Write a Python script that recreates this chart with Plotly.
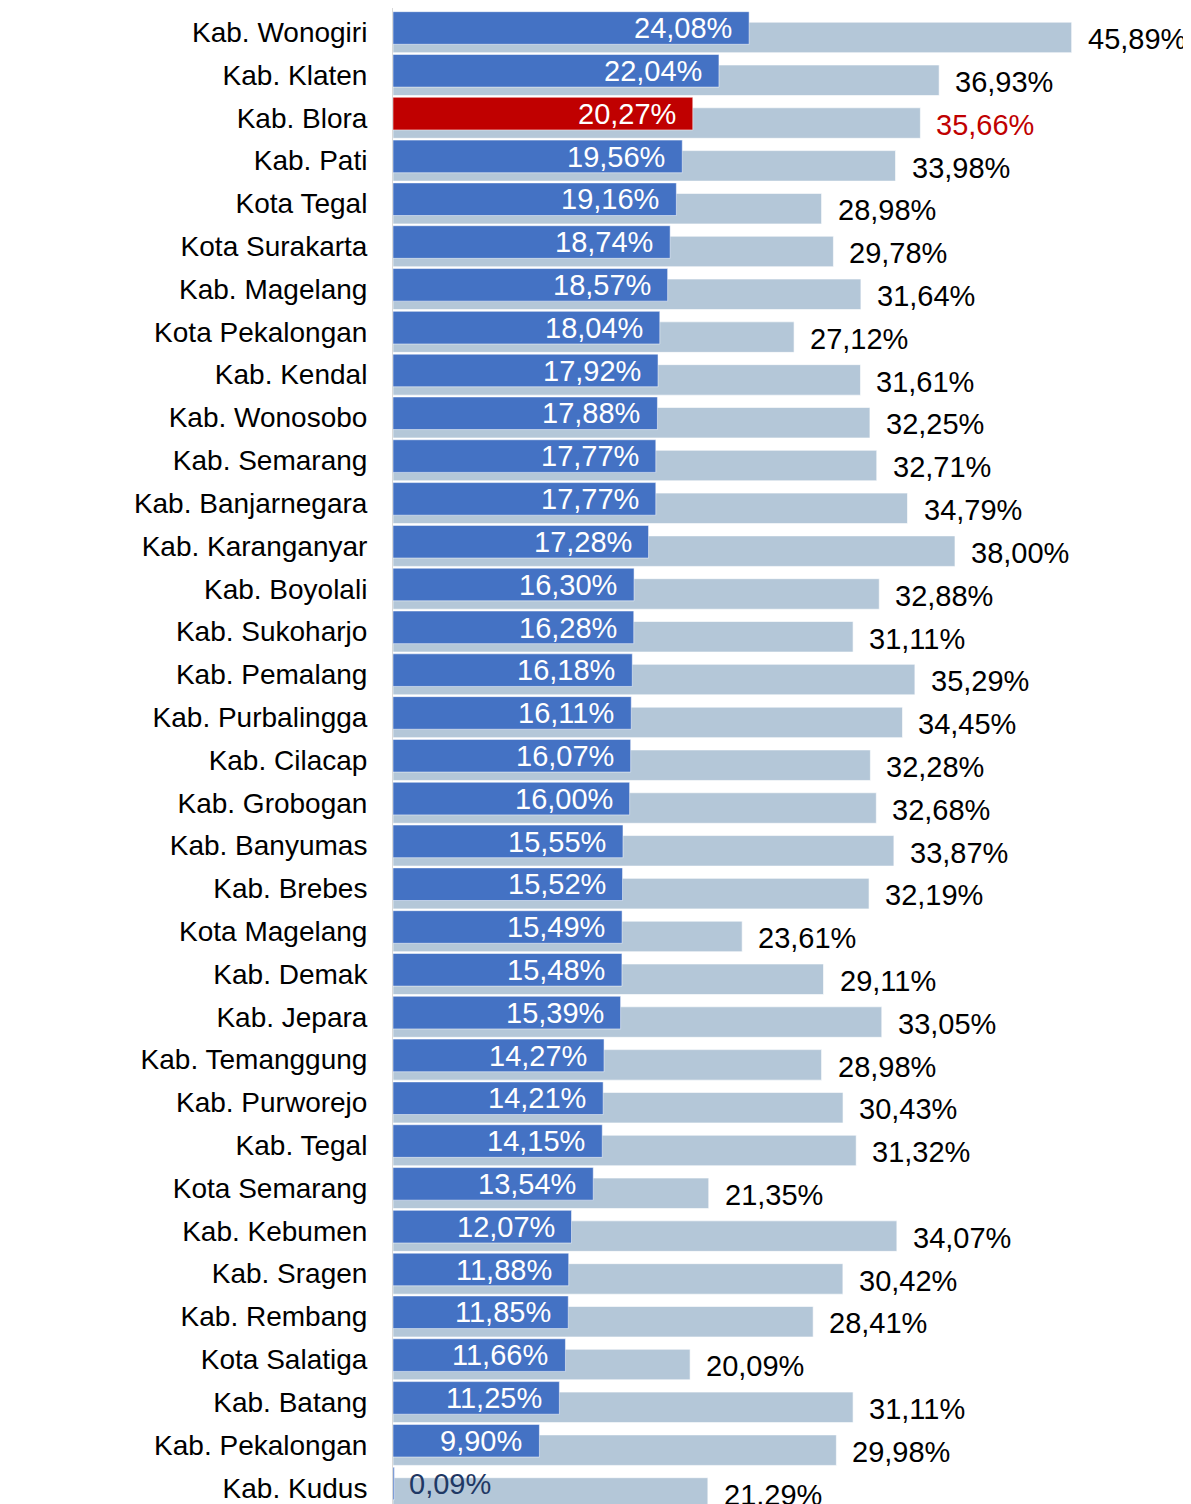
import plotly.graph_objects as go

categories = [
    "Kab. Wonogiri", "Kab. Klaten", "Kab. Blora", "Kab. Pati", "Kota Tegal",
    "Kota Surakarta", "Kab. Magelang", "Kota Pekalongan", "Kab. Kendal", "Kab. Wonosobo",
    "Kab. Semarang", "Kab. Banjarnegara", "Kab. Karanganyar", "Kab. Boyolali", "Kab. Sukoharjo",
    "Kab. Pemalang", "Kab. Purbalingga", "Kab. Cilacap", "Kab. Grobogan", "Kab. Banyumas",
    "Kab. Brebes", "Kota Magelang", "Kab. Demak", "Kab. Jepara", "Kab. Temanggung",
    "Kab. Purworejo", "Kab. Tegal", "Kota Semarang", "Kab. Kebumen", "Kab. Sragen",
    "Kab. Rembang", "Kota Salatiga", "Kab. Batang", "Kab. Pekalongan", "Kab. Kudus",
]
blue_values = [
    24.08, 22.04, 20.27, 19.56, 19.16, 18.74, 18.57, 18.04, 17.92, 17.88,
    17.77, 17.77, 17.28, 16.30, 16.28, 16.18, 16.11, 16.07, 16.00, 15.55,
    15.52, 15.49, 15.48, 15.39, 14.27, 14.21, 14.15, 13.54, 12.07, 11.88,
    11.85, 11.66, 11.25, 9.90, 0.09,
]
light_values = [
    45.89, 36.93, 35.66, 33.98, 28.98, 29.78, 31.64, 27.12, 31.61, 32.25,
    32.71, 34.79, 38.00, 32.88, 31.11, 35.29, 34.45, 32.28, 32.68, 33.87,
    32.19, 23.61, 29.11, 33.05, 28.98, 30.43, 31.32, 21.35, 34.07, 30.42,
    28.41, 20.09, 31.11, 29.98, 21.29,
]
highlight = "Kab. Blora"

BLUE = "#4472C4"
LIGHT = "#B4C7D8"
RED = "#C00000"
NAVY = "#1F3864"
FONT = "Liberation Sans, Arial, sans-serif"


def fmt(v):
    return f"{v:.2f}".replace(".", ",") + "%"


blue_colors = [RED if c == highlight else BLUE for c in categories]

fig = go.Figure()
fig.add_trace(go.Bar(
    y=categories, x=light_values, orientation="h",
    marker=dict(color=LIGHT, line=dict(color="rgba(255,255,255,0.6)", width=1)),
    offset=-0.234, width=0.713, hoverinfo="skip",
))
fig.add_trace(go.Bar(
    y=categories, x=blue_values, orientation="h",
    marker=dict(color=blue_colors, line=dict(color="rgba(255,255,255,0.5)", width=1)),
    offset=-0.479, width=0.762, hoverinfo="skip",
))

annotations = []
for c, b, l in zip(categories, blue_values, light_values):
    annotations.append(dict(
        x=l, y=c, xref="x", yref="y", text=fmt(l), showarrow=False,
        xanchor="left", yanchor="middle", xshift=14, yshift=-7,
        font=dict(family=FONT, size=29, color=RED if c == highlight else "#000000"),
    ))
    if b < 3:
        annotations.append(dict(
            x=b, y=c, xref="x", yref="y", text=fmt(b), showarrow=False,
            xanchor="left", yanchor="middle", xshift=13, yshift=4,
            font=dict(family=FONT, size=29, color=NAVY),
        ))
    else:
        annotations.append(dict(
            x=b, y=c, xref="x", yref="y", text=fmt(b), showarrow=False,
            xanchor="right", yanchor="middle", xshift=-15, yshift=4,
            font=dict(family=FONT, size=29, color="#FFFFFF"),
        ))

fig.update_layout(
    width=1191, height=1504,
    margin=dict(l=385, r=0, t=0, b=0),
    barmode="overlay",
    showlegend=False,
    plot_bgcolor="white", paper_bgcolor="white",
    annotations=annotations,
    xaxis=dict(range=[0, 54.5], visible=False, showgrid=False, zeroline=False),
    yaxis=dict(
        type="category", categoryorder="array", categoryarray=categories,
        range=[34.567, -0.565],
        showgrid=False, zeroline=False,
        showline=True, linecolor="#D9D9D9", linewidth=1,
        ticks="", ticklabelstandoff=19,
        tickfont=dict(family=FONT, size=28, color="#000000"),
    ),
)

fig.write_html("out.html")
